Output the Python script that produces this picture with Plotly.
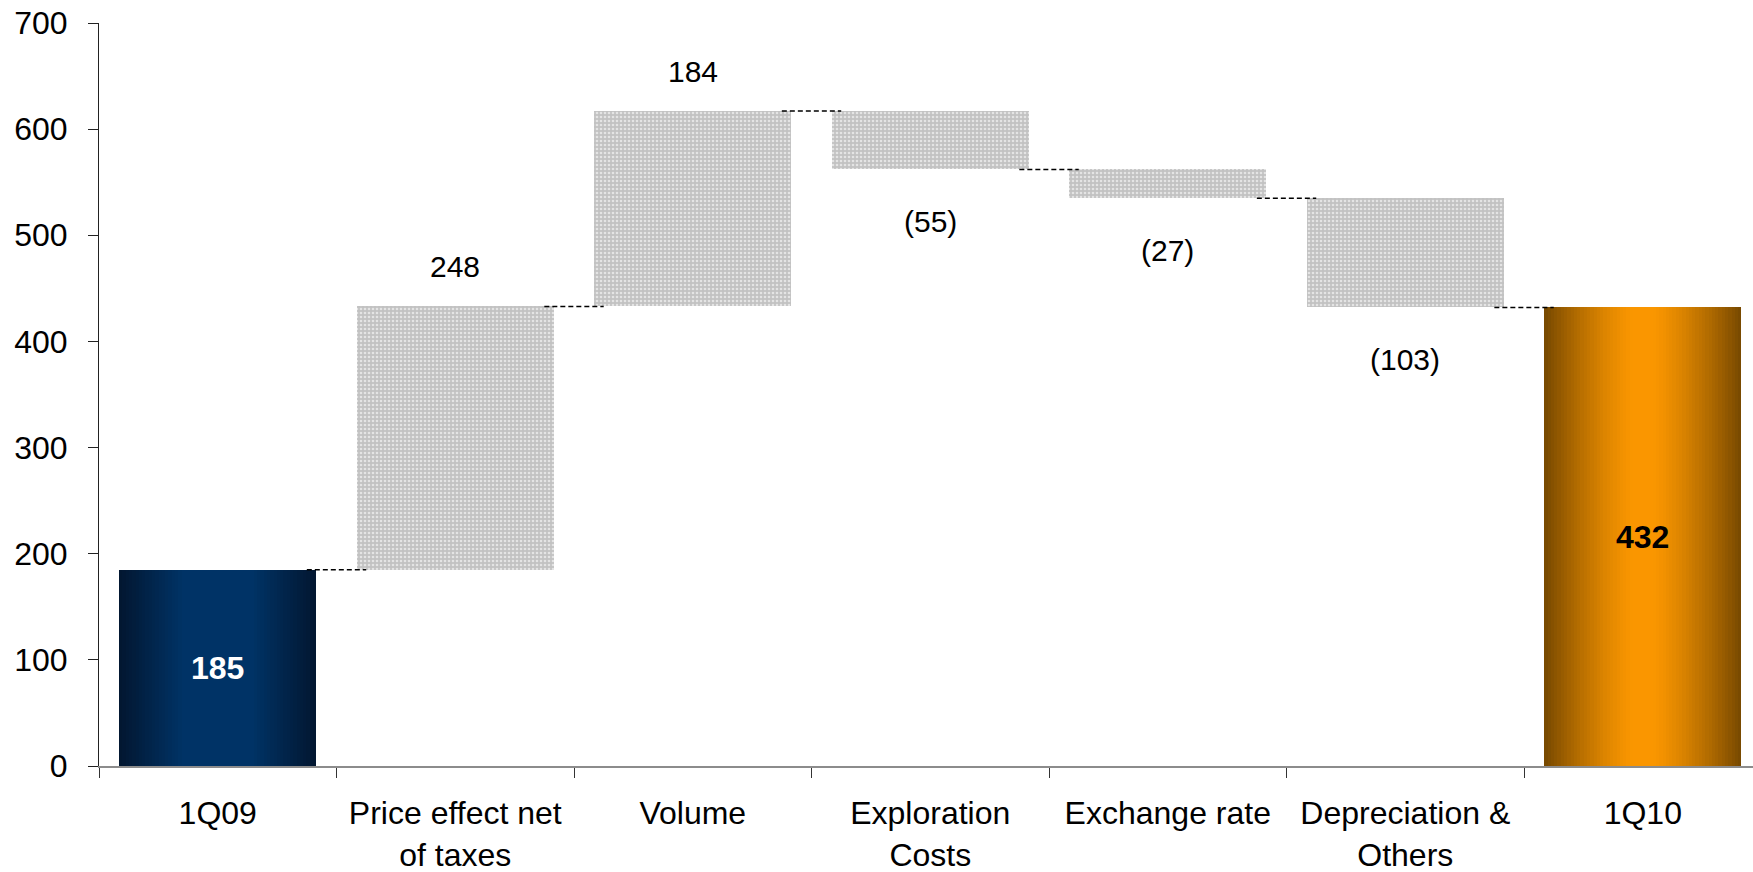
import plotly.graph_objects as go

# ---------------- data ----------------
categories = ["1Q09", "Price effect net<br>of taxes", "Volume", "Exploration<br>Costs",
              "Exchange rate", "Depreciation &<br>Others", "1Q10"]
start_value = 185
deltas = [248, 184, -55, -27, -103]
end_value = 432
y_tick_values = [0, 100, 200, 300, 400, 500, 600, 700]

# ---------------- styles ----------------
FONT = "Liberation Sans, Arial, sans-serif"
BAR_W = 0.83
NAVY_EDGE, NAVY_CENTER = (2, 22, 48), (0, 51, 102)
ORANGE_EDGE, ORANGE_CENTER = (118, 72, 0), (250, 150, 0)

fig = go.Figure()

levels = [start_value]
for d in deltas:
    levels.append(levels[-1] + d)


def gradient_bar(x, value, edge, center, plateau, gamma, n=30):
    for k in range(n):
        d_mid = 1 - (k + 0.5) / n
        t = max(0.0, min(1.0, (d_mid - plateau) / (1 - plateau))) ** gamma
        c = tuple(round(center[i] + (edge[i] - center[i]) * t) for i in range(3))
        fig.add_trace(go.Bar(
            x=[x], y=[value], width=BAR_W * (1 - k / n),
            marker=dict(color="rgb(%d,%d,%d)" % c, line=dict(width=0)),
            hoverinfo="skip", showlegend=False))


gradient_bar(0, start_value, NAVY_EDGE, NAVY_CENTER, 0.35, 1.0)

dx = list(range(1, len(deltas) + 1))
bases = [min(levels[i], levels[i + 1]) for i in range(len(deltas))]
heights = [abs(d) for d in deltas]
fig.add_trace(go.Bar(
    x=dx, y=heights, base=bases, width=BAR_W,
    marker=dict(color="#c4c4c4", line=dict(width=0),
                pattern=dict(shape=".", bgcolor="#c2c2c2", fgcolor="#e4e4e4",
                             size=4, solidity=0.35, fillmode="replace")),
    hoverinfo="skip", showlegend=False))

gradient_bar(len(categories) - 1, end_value, ORANGE_EDGE, ORANGE_CENTER, 0.1, 1.3)

# connectors
cx, cy = [], []
for i, lv in enumerate(levels):
    cx += [i + 0.375, i + 0.625, None]
    cy += [lv, lv, None]
fig.add_trace(go.Scatter(x=cx, y=cy, mode="lines",
                         line=dict(color="#000000", width=1.5, dash="5px,3px"),
                         hoverinfo="skip", showlegend=False))

# labels
ann = []
ann.append(dict(x=0, y=start_value / 2, text="<b>%d</b>" % start_value, showarrow=False,
                font=dict(family=FONT, size=32, color="white")))
ann.append(dict(x=len(categories) - 1, y=end_value / 2, text="<b>%d</b>" % end_value,
                showarrow=False, font=dict(family=FONT, size=32, color="black")))
for i, d in enumerate(deltas):
    top = max(levels[i], levels[i + 1])
    bot = min(levels[i], levels[i + 1])
    if d >= 0:
        ann.append(dict(x=i + 1, y=top, text=str(d), showarrow=False, yshift=40,
                        font=dict(family=FONT, size=30, color="black")))
    else:
        ann.append(dict(x=i + 1, y=bot, text="(%d)" % (-d), showarrow=False, yshift=-52,
                        font=dict(family=FONT, size=30, color="black")))

fig.update_layout(
    width=1753, height=872,
    margin=dict(l=99, r=0, t=23, b=106),
    barmode="overlay", bargap=0,
    plot_bgcolor="white", paper_bgcolor="white",
    showlegend=False, hovermode=False,
    font=dict(family=FONT, size=32, color="black"),
    annotations=ann,
    xaxis=dict(range=[-0.5, 6.464], tickvals=list(range(len(categories))),
               ticktext=categories, ticks="", showgrid=False, zeroline=False,
               showline=True, linecolor="#8c8c8c", linewidth=1.5, automargin=False,
               tickfont=dict(family=FONT, size=32, color="black"),
               ticklabelstandoff=18, ticklabeloverflow="allow",
               minor=dict(ticks="outside", ticklen=10, tickcolor="#333333", tickwidth=1,
                          tick0=-0.5, dtick=1, showgrid=False)),
    yaxis=dict(range=[0, 700], tickvals=y_tick_values, ticks="outside", ticklen=10,
               tickcolor="#222222", showline=True, linecolor="#222222", linewidth=1,
               showgrid=False, zeroline=False, ticklabelstandoff=14, automargin=False,
               ticklabeloverflow="allow",
               tickfont=dict(family=FONT, size=32, color="black")),
)

fig.write_html("out.html", config={"displayModeBar": False},
               post_script="document.body.style.margin='0px';")
